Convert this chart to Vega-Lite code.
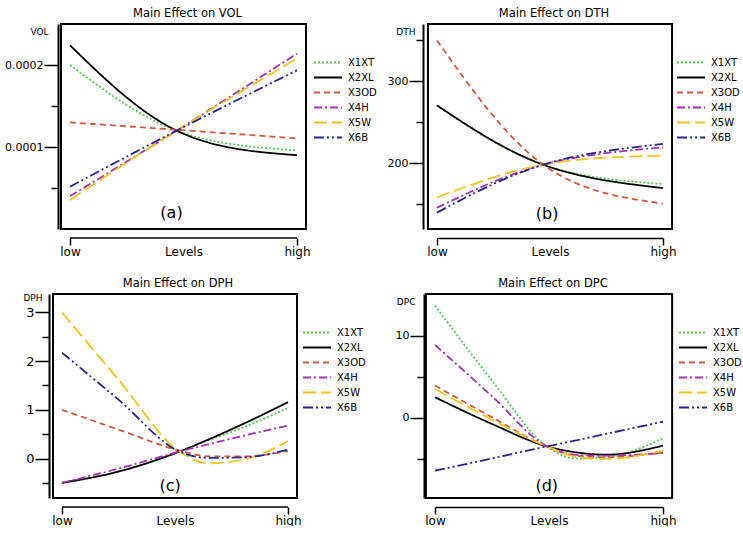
{
  "$schema": "https://vega.github.io/schema/vega-lite/v6.json",
  "background": "white",
  "padding": {"left": 4, "top": 7, "right": 0, "bottom": 0},
  "config": {
    "view": {"stroke": null},
    "font": "DejaVu Sans",
    "axis": {"domainColor": "black", "tickColor": "black", "labelColor": "black", "titleColor": "black", "grid": false, "labelFont": "DejaVu Sans", "titleFont": "DejaVu Sans", "titleFontWeight": "normal", "labelOverlap": false, "tickCount": 20},
    "title": {"fontSize": 11.5, "fontWeight": "normal", "font": "DejaVu Sans", "offset": 4, "color": "black", "dx": 4},
    "legend": {"title": null, "orient": "none", "symbolType": "stroke", "symbolSize": 784, "symbolStrokeWidth": 2, "labelFontSize": 10, "labelFont": "DejaVu Sans", "labelColor": "black", "clipHeight": 13, "rowPadding": 2, "labelOffset": 5, "padding": 0}
  },
  "resolve": {"scale": {"color": "independent", "strokeDash": "independent"}},
  "spacing": 20,
  "vconcat": [
    {
      "spacing": 10,
      "resolve": {"scale": {"color": "independent", "strokeDash": "independent"}},
      "hconcat": [
        {
          "width": 253, "height": 205,
          "title": {"text": "Main Effect on VOL", "dx": 8},
          "layer": [
            {"data": {"values": [{}]}, "mark": {"type": "rect", "filled": false, "stroke": "black", "strokeWidth": 2}, "encoding": {"x": {"datum": -0.0396}, "x2": {"datum": 1.0396}, "y": {"datum": 0}, "y2": {"datum": 0.00025}}},
            {"data": {"values": [{}]}, "mark": {"type": "rule", "color": "black", "strokeWidth": 1.5}, "encoding": {"x": {"datum": 0}, "x2": {"datum": 1}, "y": {"datum": -0.000011}}},
            {
              "data": {"values": [
                {"s": "X1XT", "x": 0, "y": 0.000200}, {"s": "X1XT", "x": 0.47, "y": 0.000120}, {"s": "X1XT", "x": 1, "y": 0.000096},
                {"s": "X2XL", "x": 0, "y": 0.000224}, {"s": "X2XL", "x": 0.47, "y": 0.000120}, {"s": "X2XL", "x": 1, "y": 0.000090},
                {"s": "X3OD", "x": 0, "y": 0.000130}, {"s": "X3OD", "x": 0.47, "y": 0.000121}, {"s": "X3OD", "x": 1, "y": 0.0001105},
                {"s": "X4H", "x": 0, "y": 0.000040}, {"s": "X4H", "x": 0.47, "y": 0.000120}, {"s": "X4H", "x": 1, "y": 0.000214},
                {"s": "X5W", "x": 0, "y": 0.0000354}, {"s": "X5W", "x": 0.47, "y": 0.000120}, {"s": "X5W", "x": 1, "y": 0.000208},
                {"s": "X6B", "x": 0, "y": 0.0000516}, {"s": "X6B", "x": 0.47, "y": 0.000120}, {"s": "X6B", "x": 1, "y": 0.0001935}
              ]},
              "mark": {"type": "line", "interpolate": "natural", "strokeWidth": 1.8},
              "encoding": {
                "x": {"field": "x", "type": "quantitative", "scale": {"domain": [-0.0749, 1.0396], "nice": false, "zero": false},
                      "axis": {"title": "Levels", "values": [0, 1], "labelExpr": "datum.value == 0 ? 'low' : 'high'", "domain": false, "offset": 9, "tickSize": 7, "tickWidth": 1.5, "labelFontSize": 12, "labelPadding": 1, "labelFlush": false, "titleFontSize": 12, "titleX": 130.5, "titleAlign": "center", "titleY": 8, "titleBaseline": "top"}},
                "y": {"field": "y", "type": "quantitative", "scale": {"domain": [0, 0.00025], "nice": false, "zero": false},
                      "axis": {"title": "VOL", "titleAngle": 0, "titleAlign": "right", "titleBaseline": "top", "titleX": -10, "titleY": 3, "titleFontSize": 9, "tickCount": 20,
                               "values": [0.00005, 0.0001, 0.00015, 0.0002], "labelExpr": "(datum.value == 0.0001 || datum.value == 0.0002) ? format(datum.value, '.4f') : ''",
                               "tickSize": {"condition": {"test": "datum.value == 0.0001 || datum.value == 0.0002", "value": 14}, "value": 7},
                               "offset": -5, "domainWidth": 2, "tickWidth": 1.5, "labelFontSize": 11, "labelPadding": 1}},
                "color": {"field": "s", "type": "nominal", "scale": {"domain": ["X1XT", "X2XL", "X3OD", "X4H", "X5W", "X6B"], "range": ["#55c855", "#000000", "#d4573f", "#a52fb5", "#f2c41f", "#26268f"]}, "legend": {"legendX": 260, "legendY": 32}},
                "strokeDash": {"field": "s", "type": "nominal", "scale": {"domain": ["X1XT", "X2XL", "X3OD", "X4H", "X5W", "X6B"], "range": [[2, 2], [1, 0], [6, 4], [8, 3, 2, 3], [13, 5], [10, 3, 2, 3, 2, 3]]}, "legend": {"legendX": 260, "legendY": 32}}
              }
            },
            {"data": {"values": [{"t": "(a)"}]}, "mark": {"type": "text", "fontSize": 16, "font": "DejaVu Sans", "color": "black"}, "encoding": {"x": {"datum": 0.447}, "y": {"datum": 0.0000195}, "text": {"field": "t"}}}
          ]
        },
        {
          "width": 226, "height": 205,
          "title": "Main Effect on DTH",
          "layer": [
            {"data": {"values": [{}]}, "mark": {"type": "rect", "filled": false, "stroke": "black", "strokeWidth": 2}, "encoding": {"x": {"datum": -0.04}, "x2": {"datum": 1.04}, "y": {"datum": 120}, "y2": {"datum": 370}}},
            {
              "data": {"values": [
                {"s": "X1XT", "x": 0, "y": 270.7}, {"s": "X1XT", "x": 0.47, "y": 198.4}, {"s": "X1XT", "x": 1, "y": 174.8},
                {"s": "X2XL", "x": 0, "y": 270.7}, {"s": "X2XL", "x": 0.47, "y": 198.4}, {"s": "X2XL", "x": 1, "y": 169.9},
                {"s": "X3OD", "x": 0, "y": 350}, {"s": "X3OD", "x": 0.47, "y": 198.4}, {"s": "X3OD", "x": 1, "y": 151},
                {"s": "X4H", "x": 0, "y": 146}, {"s": "X4H", "x": 0.47, "y": 198.4}, {"s": "X4H", "x": 1, "y": 219.6},
                {"s": "X5W", "x": 0, "y": 158.4}, {"s": "X5W", "x": 0.47, "y": 198.4}, {"s": "X5W", "x": 1, "y": 209.5},
                {"s": "X6B", "x": 0, "y": 140}, {"s": "X6B", "x": 0.47, "y": 198.4}, {"s": "X6B", "x": 1, "y": 223.8}
              ]},
              "mark": {"type": "line", "interpolate": "natural", "strokeWidth": 1.8},
              "encoding": {
                "x": {"field": "x", "type": "quantitative", "scale": {"domain": [0, 1], "nice": false, "zero": false},
                      "axis": {"title": "Levels", "values": [0, 1], "labelExpr": "datum.value == 0 ? 'low' : 'high'", "offset": 9, "tickSize": 7, "tickWidth": 1.5, "domainWidth": 1.5, "labelFontSize": 12, "labelPadding": 1, "labelFlush": false, "titleFontSize": 12, "titleY": 8, "titleBaseline": "top"}},
                "y": {"field": "y", "type": "quantitative", "scale": {"domain": [120, 370], "nice": false, "zero": false},
                      "axis": {"title": "DTH", "titleAngle": 0, "titleAlign": "right", "titleBaseline": "top", "titleX": -8, "titleY": 3, "titleFontSize": 9, "tickCount": 20,
                               "values": [150, 200, 250, 300, 350], "labelExpr": "(datum.value == 200 || datum.value == 300) ? format(datum.value, 'd') : ''",
                               "tickSize": {"condition": {"test": "datum.value == 200 || datum.value == 300", "value": 14}, "value": 7},
                               "offset": 14, "domainWidth": 2, "tickWidth": 1.5, "labelFontSize": 11, "labelPadding": 1}},
                "color": {"field": "s", "type": "nominal", "scale": {"domain": ["X1XT", "X2XL", "X3OD", "X4H", "X5W", "X6B"], "range": ["#55c855", "#000000", "#d4573f", "#a52fb5", "#f2c41f", "#26268f"]}, "legend": {"legendX": 239, "legendY": 32}},
                "strokeDash": {"field": "s", "type": "nominal", "scale": {"domain": ["X1XT", "X2XL", "X3OD", "X4H", "X5W", "X6B"], "range": [[2, 2], [1, 0], [6, 4], [8, 3, 2, 3], [13, 5], [10, 3, 2, 3, 2, 3]]}, "legend": {"legendX": 239, "legendY": 32}}
              }
            },
            {"data": {"values": [{"t": "(b)"}]}, "mark": {"type": "text", "fontSize": 16, "font": "DejaVu Sans", "color": "black"}, "encoding": {"x": {"datum": 0.487}, "y": {"datum": 138.4}, "text": {"field": "t"}}}
          ]
        }
      ]
    },
    {
      "spacing": 29,
      "resolve": {"scale": {"color": "independent", "strokeDash": "independent"}},
      "hconcat": [
        {
          "width": 244, "height": 204,
          "title": {"text": "Main Effect on DPH", "dx": 3},
          "layer": [
            {"data": {"values": [{}]}, "mark": {"type": "rect", "filled": false, "stroke": "black", "strokeWidth": 2}, "encoding": {"x": {"datum": -0.0398}, "x2": {"datum": 1.0398}, "y": {"datum": -0.8}, "y2": {"datum": 3.37}}},
            {"data": {"values": [{}]}, "mark": {"type": "rule", "color": "black", "strokeWidth": 1.5}, "encoding": {"x": {"datum": 0}, "x2": {"datum": 1}, "y": {"datum": -0.985}}},
            {
              "data": {"values": [
                {"s": "X1XT", "x": 0, "y": -0.49}, {"s": "X1XT", "x": 0.25, "y": -0.26}, {"s": "X1XT", "x": 0.52, "y": 0.15}, {"s": "X1XT", "x": 0.65, "y": 0.38}, {"s": "X1XT", "x": 0.8, "y": 0.64}, {"s": "X1XT", "x": 1, "y": 1.04},
                {"s": "X2XL", "x": 0, "y": -0.49}, {"s": "X2XL", "x": 0.25, "y": -0.26}, {"s": "X2XL", "x": 0.52, "y": 0.15}, {"s": "X2XL", "x": 0.65, "y": 0.40}, {"s": "X2XL", "x": 0.8, "y": 0.71}, {"s": "X2XL", "x": 1, "y": 1.16},
                {"s": "X3OD", "x": 0, "y": 1.0}, {"s": "X3OD", "x": 0.25, "y": 0.60}, {"s": "X3OD", "x": 0.52, "y": 0.17}, {"s": "X3OD", "x": 0.65, "y": 0.05}, {"s": "X3OD", "x": 0.8, "y": 0.05}, {"s": "X3OD", "x": 1, "y": 0.16},
                {"s": "X4H", "x": 0, "y": -0.49}, {"s": "X4H", "x": 0.25, "y": -0.20}, {"s": "X4H", "x": 0.52, "y": 0.15}, {"s": "X4H", "x": 0.65, "y": 0.30}, {"s": "X4H", "x": 0.8, "y": 0.47}, {"s": "X4H", "x": 1, "y": 0.68},
                {"s": "X5W", "x": 0, "y": 2.99}, {"s": "X5W", "x": 0.25, "y": 1.62}, {"s": "X5W", "x": 0.52, "y": 0.15}, {"s": "X5W", "x": 0.65, "y": -0.09}, {"s": "X5W", "x": 0.8, "y": -0.02}, {"s": "X5W", "x": 1, "y": 0.36},
                {"s": "X6B", "x": 0, "y": 2.17}, {"s": "X6B", "x": 0.25, "y": 1.21}, {"s": "X6B", "x": 0.52, "y": 0.15}, {"s": "X6B", "x": 0.65, "y": 0.02}, {"s": "X6B", "x": 0.8, "y": 0.03}, {"s": "X6B", "x": 1, "y": 0.19}
              ]},
              "mark": {"type": "line", "interpolate": "monotone", "strokeWidth": 1.8},
              "encoding": {
                "x": {"field": "x", "type": "quantitative", "scale": {"domain": [-0.0398, 1.0398], "nice": false, "zero": false},
                      "axis": {"title": "Levels", "values": [0, 1], "labelExpr": "datum.value == 0 ? 'low' : 'high'", "domain": false, "offset": 9, "tickSize": 7, "tickWidth": 1.5, "labelFontSize": 12, "labelPadding": 1, "labelFlush": false, "titleFontSize": 12, "titleX": 122, "titleAlign": "center", "titleY": 8, "titleBaseline": "top"}},
                "y": {"field": "y", "type": "quantitative", "scale": {"domain": [-0.8, 3.37], "nice": false, "zero": false},
                      "axis": {"title": "DPH", "titleAngle": 0, "titleAlign": "right", "titleBaseline": "top", "titleX": -7, "titleY": -1, "titleFontSize": 9, "tickCount": 20,
                               "values": [-0.5, 0, 0.5, 1, 1.5, 2, 2.5, 3], "labelExpr": "(datum.value == 0 || datum.value == 1 || datum.value == 2 || datum.value == 3) ? format(datum.value, 'd') : ''",
                               "tickSize": {"condition": {"test": "datum.value == 0 || datum.value == 1 || datum.value == 2 || datum.value == 3", "value": 14}, "value": 7},
                               "offset": 4, "domainWidth": 2, "tickWidth": 1.5, "labelFontSize": 13, "labelPadding": 1}},
                "color": {"field": "s", "type": "nominal", "scale": {"domain": ["X1XT", "X2XL", "X3OD", "X4H", "X5W", "X6B"], "range": ["#55c855", "#000000", "#d4573f", "#a52fb5", "#f2c41f", "#26268f"]}, "legend": {"legendX": 249, "legendY": 32}},
                "strokeDash": {"field": "s", "type": "nominal", "scale": {"domain": ["X1XT", "X2XL", "X3OD", "X4H", "X5W", "X6B"], "range": [[2, 2], [1, 0], [6, 4], [8, 3, 2, 3], [13, 5], [10, 3, 2, 3, 2, 3]]}, "legend": {"legendX": 249, "legendY": 32}}
              }
            },
            {"data": {"values": [{"t": "(c)"}]}, "mark": {"type": "text", "fontSize": 16, "font": "DejaVu Sans", "color": "black"}, "encoding": {"x": {"datum": 0.478}, "y": {"datum": -0.55}, "text": {"field": "t"}}}
          ]
        },
        {
          "width": 228, "height": 204,
          "title": "Main Effect on DPC",
          "layer": [
            {"data": {"values": [{}]}, "mark": {"type": "rect", "filled": false, "stroke": "black", "strokeWidth": 2}, "encoding": {"x": {"datum": -0.04}, "x2": {"datum": 1.04}, "y": {"datum": -9.76}, "y2": {"datum": 15.1}}},
            {
              "data": {"values": [
                {"s": "X1XT", "x": 0, "y": 13.69}, {"s": "X1XT", "x": 0.25, "y": 4.55}, {"s": "X1XT", "x": 0.49, "y": -3.46}, {"s": "X1XT", "x": 0.62, "y": -4.95}, {"s": "X1XT", "x": 0.75, "y": -4.8}, {"s": "X1XT", "x": 1, "y": -2.48},
                {"s": "X2XL", "x": 0, "y": 2.52}, {"s": "X2XL", "x": 0.25, "y": -0.74}, {"s": "X2XL", "x": 0.49, "y": -3.46}, {"s": "X2XL", "x": 0.62, "y": -4.2}, {"s": "X2XL", "x": 0.75, "y": -4.48}, {"s": "X2XL", "x": 1, "y": -3.38},
                {"s": "X3OD", "x": 0, "y": 3.94}, {"s": "X3OD", "x": 0.25, "y": 0.08}, {"s": "X3OD", "x": 0.49, "y": -3.46}, {"s": "X3OD", "x": 0.62, "y": -4.6}, {"s": "X3OD", "x": 0.75, "y": -4.8}, {"s": "X3OD", "x": 1, "y": -4.19},
                {"s": "X4H", "x": 0, "y": 8.9}, {"s": "X4H", "x": 0.25, "y": 2.64}, {"s": "X4H", "x": 0.49, "y": -3.46}, {"s": "X4H", "x": 0.62, "y": -4.5}, {"s": "X4H", "x": 0.75, "y": -4.6}, {"s": "X4H", "x": 1, "y": -4.27},
                {"s": "X5W", "x": 0, "y": 3.53}, {"s": "X5W", "x": 0.25, "y": -0.21}, {"s": "X5W", "x": 0.49, "y": -3.46}, {"s": "X5W", "x": 0.62, "y": -4.75}, {"s": "X5W", "x": 0.75, "y": -5.0}, {"s": "X5W", "x": 1, "y": -3.99},
                {"s": "X6B", "x": 0, "y": -6.43}, {"s": "X6B", "x": 0.25, "y": -4.94}, {"s": "X6B", "x": 0.49, "y": -3.48}, {"s": "X6B", "x": 0.62, "y": -2.73}, {"s": "X6B", "x": 0.75, "y": -1.95}, {"s": "X6B", "x": 1, "y": -0.455}
              ]},
              "mark": {"type": "line", "interpolate": "monotone", "strokeWidth": 1.8},
              "encoding": {
                "x": {"field": "x", "type": "quantitative", "scale": {"domain": [0, 1], "nice": false, "zero": false},
                      "axis": {"title": "Levels", "values": [0, 1], "labelExpr": "datum.value == 0 ? 'low' : 'high'", "offset": 9, "tickSize": 7, "tickWidth": 1.5, "domainWidth": 1.5, "labelFontSize": 12, "labelPadding": 1, "labelFlush": false, "titleFontSize": 12, "titleY": 8, "titleBaseline": "top"}},
                "y": {"field": "y", "type": "quantitative", "scale": {"domain": [-9.76, 15.1], "nice": false, "zero": false},
                      "axis": {"title": "DPC", "titleAngle": 0, "titleAlign": "right", "titleBaseline": "top", "titleX": -9, "titleY": 3, "titleFontSize": 9, "tickCount": 20,
                               "values": [-5, 0, 5, 10], "labelExpr": "(datum.value == 0 || datum.value == 10) ? format(datum.value, 'd') : ''",
                               "tickSize": {"condition": {"test": "datum.value == 0 || datum.value == 10", "value": 14}, "value": 7},
                               "offset": 11, "domainWidth": 2, "tickWidth": 1.5, "labelFontSize": 11, "labelPadding": 1}},
                "color": {"field": "s", "type": "nominal", "scale": {"domain": ["X1XT", "X2XL", "X3OD", "X4H", "X5W", "X6B"], "range": ["#55c855", "#000000", "#d4573f", "#a52fb5", "#f2c41f", "#26268f"]}, "legend": {"legendX": 243, "legendY": 32}},
                "strokeDash": {"field": "s", "type": "nominal", "scale": {"domain": ["X1XT", "X2XL", "X3OD", "X4H", "X5W", "X6B"], "range": [[2, 2], [1, 0], [6, 4], [8, 3, 2, 3], [13, 5], [10, 3, 2, 3, 2, 3]]}, "legend": {"legendX": 243, "legendY": 32}}
              }
            },
            {"data": {"values": [{"t": "(d)"}]}, "mark": {"type": "text", "fontSize": 16, "font": "DejaVu Sans", "color": "black"}, "encoding": {"x": {"datum": 0.49}, "y": {"datum": -8.3}, "text": {"field": "t"}}}
          ]
        }
      ]
    }
  ]
}
